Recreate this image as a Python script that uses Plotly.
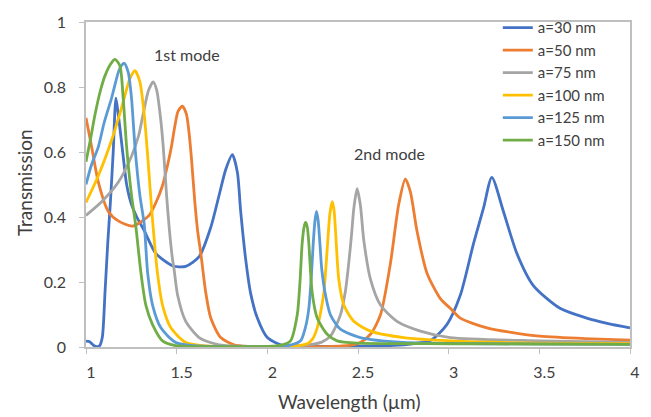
import plotly.graph_objects as go

# ---------------- data ----------------
x_a30 = [1.0, 1.02, 1.04, 1.06, 1.075, 1.09, 1.105, 1.12, 1.135, 1.15, 1.165, 1.178,
         1.205, 1.224, 1.25, 1.28, 1.321, 1.385, 1.477, 1.55, 1.624, 1.688, 1.734, 1.771,
         1.807, 1.835, 1.853, 1.881, 1.908, 1.945, 2.0, 2.073, 2.15, 2.3, 2.5, 2.7, 2.8,
         2.9, 2.99, 3.064, 3.137, 3.192, 3.238, 3.302, 3.376, 3.467, 3.614, 3.761, 3.88, 4.0]
y_a30 = [0.018, 0.016, 0.006, 0.001, 0.004, 0.03, 0.17, 0.32, 0.45, 0.60, 0.766, 0.716,
         0.587, 0.50, 0.44, 0.40, 0.358, 0.288, 0.25, 0.248, 0.278, 0.368, 0.467, 0.547,
         0.592, 0.537, 0.417, 0.268, 0.165, 0.089, 0.029, 0.007, 0.003, 0.002, 0.002, 0.005, 0.01,
         0.02, 0.069, 0.159, 0.318, 0.427, 0.522, 0.417, 0.288, 0.189, 0.119, 0.089, 0.072, 0.059]

x_a50 = [1.0, 1.031, 1.068, 1.123, 1.178, 1.257, 1.348, 1.39, 1.422, 1.45, 1.471, 1.49,
         1.508, 1.532, 1.554, 1.57, 1.582, 1.6, 1.615, 1.635, 1.66, 1.688, 1.743, 1.816,
         1.9, 2.1, 2.3, 2.45, 2.513, 2.57, 2.624, 2.679, 2.724, 2.761, 2.789, 2.825, 2.88,
         2.954, 3.009, 3.064, 3.211, 3.486, 3.75, 4.0]
y_a50 = [0.705, 0.616, 0.507, 0.417, 0.388, 0.372, 0.405, 0.45, 0.497, 0.56, 0.616, 0.68,
         0.726, 0.741, 0.716, 0.65, 0.577, 0.447, 0.36, 0.28, 0.169, 0.089, 0.029, 0.007,
         0.002, 0.001, 0.001, 0.005, 0.014, 0.04, 0.099, 0.258, 0.437, 0.517, 0.477, 0.358, 0.228,
         0.149, 0.119, 0.089, 0.059, 0.034, 0.026, 0.021]

x_a75 = [1.0, 1.086, 1.178, 1.251, 1.29, 1.315, 1.345, 1.371, 1.39, 1.41, 1.426, 1.444,
         1.46, 1.477, 1.486, 1.505, 1.55, 1.624, 1.71, 1.8, 2.0, 2.2, 2.3, 2.35, 2.403, 2.43,
         2.449, 2.465, 2.477, 2.495, 2.513, 2.532, 2.569, 2.624, 2.715, 2.844, 3.009, 3.5, 4.0]
y_a75 = [0.405, 0.447, 0.507, 0.587, 0.65, 0.716, 0.79, 0.816, 0.79, 0.71, 0.616, 0.47,
         0.36, 0.27, 0.238, 0.16, 0.079, 0.029, 0.01, 0.003, 0.002, 0.005, 0.015, 0.035, 0.099, 0.17,
         0.258, 0.35, 0.427, 0.487, 0.437, 0.328, 0.208, 0.129, 0.079, 0.049, 0.029, 0.019, 0.014]

x_a100 = [1.0, 1.068, 1.141, 1.196, 1.242, 1.27, 1.297, 1.321, 1.343, 1.367, 1.394, 1.422,
          1.468, 1.55, 1.65, 1.8, 2.0, 2.15, 2.22, 2.25, 2.275, 2.295, 2.312, 2.33, 2.345,
          2.358, 2.368, 2.376, 2.394, 2.422, 2.477, 2.569, 2.752, 3.01, 3.5, 4.0]
y_a100 = [0.445, 0.527, 0.636, 0.736, 0.826, 0.85, 0.816, 0.716, 0.567, 0.39, 0.228, 0.129,
          0.059, 0.014, 0.004, 0.001, 0.001, 0.003, 0.01, 0.025, 0.059, 0.11, 0.169, 0.3, 0.41,
          0.447, 0.42, 0.358, 0.208, 0.129, 0.079, 0.049, 0.029, 0.019, 0.012, 0.01]

x_a125 = [1.0, 1.03, 1.068, 1.1, 1.141, 1.178, 1.195, 1.211, 1.233, 1.251, 1.27, 1.297,
          1.321, 1.34, 1.367, 1.413, 1.495, 1.6, 1.8, 2.0, 2.12, 2.183, 2.21, 2.229, 2.243,
          2.253, 2.263, 2.271, 2.28, 2.29, 2.3, 2.321, 2.348, 2.403, 2.513, 2.75, 3.2, 4.0]
y_a125 = [0.50, 0.56, 0.616, 0.69, 0.766, 0.845, 0.866, 0.873, 0.845, 0.766, 0.616, 0.467,
          0.378, 0.228, 0.129, 0.059, 0.014, 0.004, 0.001, 0.001, 0.005, 0.019, 0.06, 0.119, 0.22,
          0.318, 0.39, 0.417, 0.39, 0.318, 0.24, 0.159, 0.099, 0.055, 0.029, 0.014, 0.01, 0.008]

x_a150 = [1.0, 1.025, 1.05, 1.08, 1.105, 1.135, 1.16, 1.187, 1.205, 1.224, 1.251, 1.275,
          1.303, 1.33, 1.367, 1.422, 1.495, 1.6, 1.8, 2.0, 2.08, 2.128, 2.165, 2.18, 2.192,
          2.203, 2.211, 2.22, 2.229, 2.247, 2.275, 2.33, 2.385, 2.5, 3.0, 3.5, 4.0]
y_a150 = [0.570, 0.64, 0.716, 0.79, 0.835, 0.87, 0.885, 0.865, 0.766, 0.616, 0.467, 0.37,
          0.228, 0.129, 0.069, 0.019, 0.004, 0.001, 0.001, 0.002, 0.006, 0.019, 0.099, 0.2, 0.318,
          0.37, 0.383, 0.37, 0.318, 0.169, 0.089, 0.039, 0.019, 0.012, 0.01, 0.009, 0.008]

series_names = ["a=30 nm", "a=50 nm", "a=75 nm", "a=100 nm", "a=125 nm", "a=150 nm"]
series_x = [x_a30, x_a50, x_a75, x_a100, x_a125, x_a150]
series_y = [y_a30, y_a50, y_a75, y_a100, y_a125, y_a150]
colors = ["#4472C4", "#ED7D31", "#A5A5A5", "#FFC000", "#5B9BD5", "#70AD47"]

x_ticks = [1, 1.5, 2, 2.5, 3, 3.5, 4]
y_ticks = [0, 0.2, 0.4, 0.6, 0.8, 1]

FONT = "Lato, 'Open Sans', sans-serif"
TXT = "#404040"
AX = "#BFBFBF"

fig = go.Figure()
for name, xs, ys, c in zip(series_names, series_x, series_y, colors):
    fig.add_trace(go.Scatter(x=xs, y=ys, name=name, mode="lines",
                             line=dict(color=c, width=2.8, shape="spline", smoothing=0.7)))

fig.add_annotation(x=1.559, y=0.90, text="1st mode", showarrow=False,
                   font=dict(family=FONT, size=16, color=TXT))
fig.add_annotation(x=2.676, y=0.596, text="2nd mode", showarrow=False,
                   font=dict(family=FONT, size=16, color=TXT))

# axis titles placed as paper annotations
fig.add_annotation(xref="paper", yref="paper", x=(349 - 86) / 544, y=-(403 - 347) / 336,
                   text="Wavelength (µm)", showarrow=False, xanchor="center", yanchor="middle",
                   font=dict(family=FONT, size=19, color=TXT))
fig.add_annotation(xref="paper", yref="paper", x=-(86 - 24) / 544, y=(347 - 177.5) / 336,
                   text="Transmission", showarrow=False, xanchor="center", yanchor="middle",
                   textangle=-90, font=dict(family=FONT, size=19, color=TXT))

fig.update_layout(
    width=651, height=417,
    margin=dict(l=86, r=21, t=11, b=70),
    paper_bgcolor="white", plot_bgcolor="white",
    font=dict(family=FONT, size=16, color=TXT),
    showlegend=True,
    legend=dict(x=0.757, y=1.033, xanchor="left", yanchor="top",
                bgcolor="rgba(0,0,0,0)", font=dict(family=FONT, size=15, color=TXT),
                tracegroupgap=0, itemwidth=30),
)
fig.update_xaxes(range=[1, 4], tickvals=x_ticks, ticktext=[str(v) for v in x_ticks],
                 showgrid=False, zeroline=False, showline=True, mirror=True,
                 linecolor=AX, linewidth=1.5, ticks="outside", ticklen=5, tickcolor=AX,
                 tickfont=dict(family=FONT, size=16, color=TXT), ticklabelstandoff=5,
                 ticklabelshift=5)
fig.update_yaxes(range=[0, 1], tickvals=y_ticks, ticktext=[f"{v:g}" for v in y_ticks],
                 showgrid=False, zeroline=False, showline=True, mirror=True,
                 linecolor=AX, linewidth=1.5, ticks="outside", ticklen=5, tickcolor=AX,
                 tickfont=dict(family=FONT, size=16, color=TXT), ticklabelstandoff=10)

fig.write_html("out.html")
